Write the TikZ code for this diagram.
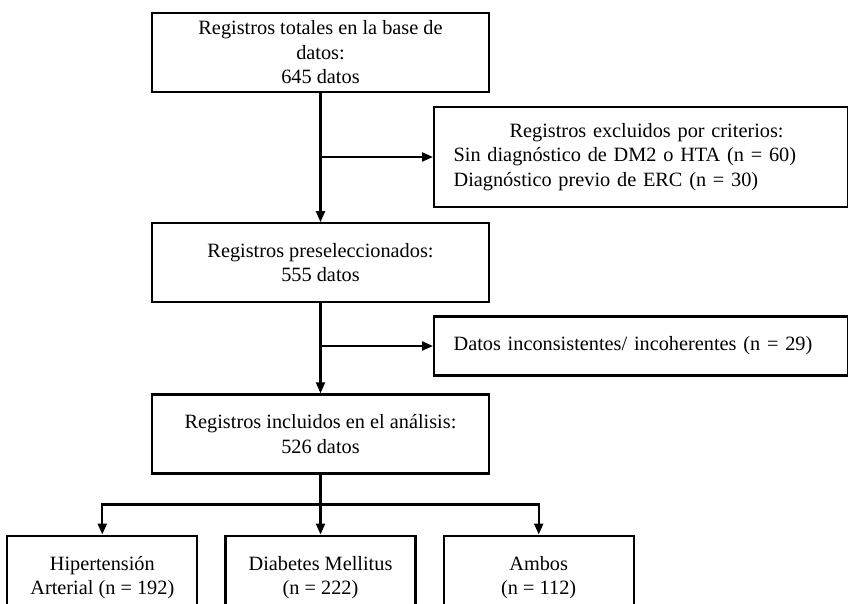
\documentclass[tikz,border=0pt]{standalone}
\usepackage{fontspec}
\setmainfont{Liberation Serif}
\usetikzlibrary{positioning,arrows.meta}

\begin{document}
\begin{tikzpicture}[
    x=1pt, y=1pt,
    font=\fontsize{20.3}{24.5}\selectfont,
    flowbox/.style={rectangle, draw=black, line width=2.2pt, align=center, inner sep=0pt},
    mainbox/.style={flowbox, minimum width=337pt, minimum height=79pt},
    sidebox/.style={flowbox, minimum width=414pt, anchor=west, align=left, text width=375pt, inner xsep=19pt},
    groupbox/.style={flowbox, minimum width=190pt, minimum height=84pt},
    link/.style={line width=2.2pt, -{Triangle[length=11pt,width=9pt]}},
    ]
    \useasboundingbox (0,0) rectangle (848,603);
    \clip (0,0) rectangle (848,603);

    %Nodes
    \node[mainbox]  (tot)  at (320.5,550.5)      {Registros totales en la base de\\ datos:\\ 645 datos};
    \node[mainbox]  (pre)  [below=129pt of tot]  {Registros preseleccionados:\\ 555 datos};
    \node[mainbox]  (ana)  [below=90pt of pre]   {Registros incluidos en el análisis:\\ 526 datos};
    \node[sidebox, minimum height=100pt] (excl) at (433,446)
        {\hspace*{56pt}Registros excluidos por criterios:\\ Sin diagnóstico de DM2 o HTA (n = 60)\\ Diagnóstico previo de ERC (n = 30)};
    \node[sidebox, minimum height=59pt]  (inc)  at (433,257)
        {Datos inconsistentes/ incoherentes (n = 29)};
    \node[groupbox] (dm)   [below=60pt of ana]   {Diabetes Mellitus\\ (n = 222)};
    \node[groupbox] (hta)  [left=26pt of dm]     {Hipertensión\\ Arterial (n = 192)};
    \node[groupbox] (amb)  [right=26pt of dm]    {Ambos\\ (n = 112)};

    %Lines
    \draw[link] (tot.south) -- (pre.north);
    \draw[link] (tot.south |- excl.west) -- (excl.west);
    \draw[link] (pre.south) -- (ana.north);
    \draw[link] (pre.south |- inc.west) -- (inc.west);
    \draw[link] (ana.south) -- (dm.north);
    \draw[link] (ana.south) -- ++(0,-30) -| (hta.north);
    \draw[link] (ana.south) -- ++(0,-30) -| (amb.north);
\end{tikzpicture}
\end{document}
